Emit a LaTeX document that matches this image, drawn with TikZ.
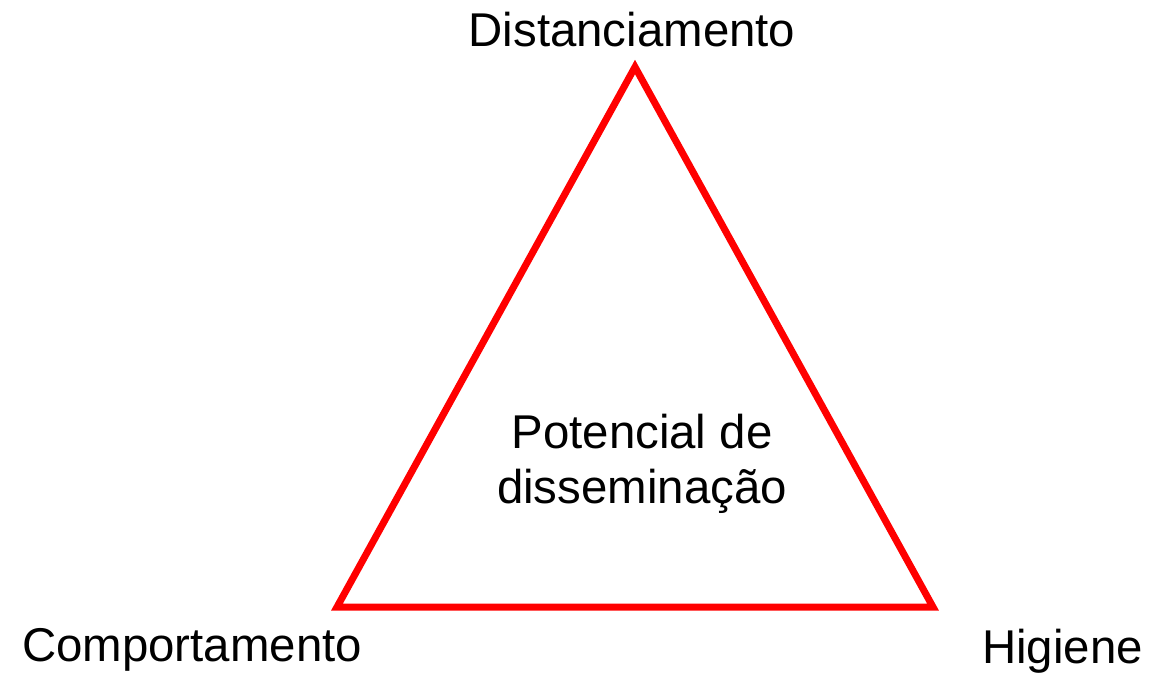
\documentclass[tikz,border=0pt]{standalone}
\usepackage{fontspec}
\setmainfont{Liberation Sans}
\begin{document}
\begin{tikzpicture}[x=1pt,y=-1pt,
  lbl/.style={anchor=base,inner sep=0pt,font=\fontsize{47.4}{54}\selectfont},
  tri/.style={draw=red,line width=7pt,line join=miter}]
\useasboundingbox (0,0) rectangle (1151,675);
\coordinate (top) at (635,67);
\coordinate (bl) at (337,607);
\coordinate (br) at (933,607);
\draw[tri] (top) -- (bl) -- (br) -- cycle;
\node[lbl] (dist) at (632,46) {Distanciamento};
\node[lbl,anchor=base west] (comp) at (22,661) {Comportamento};
\node[lbl,anchor=base west] (hig) at (982,663) {Higiene};
\node[lbl] (pot1) at (642,448) {Potencial de};
\node[lbl] (pot2) at (642,503) {disseminação};
\end{tikzpicture}
\end{document}
